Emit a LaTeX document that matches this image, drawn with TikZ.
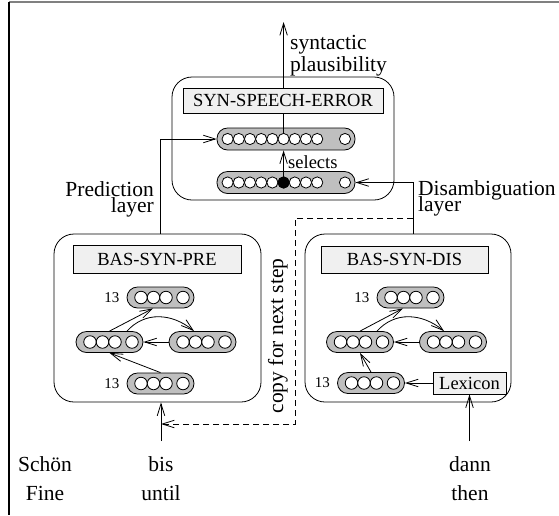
\documentclass[tikz,border=0pt]{standalone}
\usepackage{fontspec}
\setmainfont{Liberation Serif}
\usetikzlibrary{arrows.meta}
\begin{document}
\begin{tikzpicture}[x=1pt,y=-1pt,
  every node/.style={inner sep=0pt},
  lw/.style={line width=0.8pt},
  bigbox/.style={draw, line width=0.8pt, rounded corners=20pt},
  lbox/.style={draw, fill=gray!12, line width=0.8pt, font=\fontsize{18.5}{20}\selectfont},
  bbar/.style={draw, fill=gray!50, line width=0.8pt, rounded corners=10.5pt, minimum width=138pt, minimum height=22pt},
  sbar/.style={draw, fill=gray!50, line width=0.8pt, rounded corners=10.5pt, minimum width=67pt, minimum height=21pt},
  bdot/.style={circle, draw, fill=white, line width=0.8pt, minimum size=11.2pt},
  sdot/.style={circle, draw, fill=white, line width=0.8pt, minimum size=12.5pt},
  arr/.style={line width=0.8pt, -{Straight Barb[length=12pt,width=7.5pt]}},
  ann/.style={font=\fontsize{21.5}{24}\selectfont},
  num/.style={font=\fontsize{15}{16}\selectfont},
  sel/.style={font=\fontsize{18.5}{20}\selectfont},
]
\useasboundingbox (0,0) rectangle (559,515);
% frame
\draw[gray, line width=1.5pt] (9,2) -- (559,2);
\draw[line width=1.2pt] (9,2) -- (9,515);

% big boxes
\node[bigbox, minimum width=222pt, minimum height=123pt] (top) at (283,138.5) {};
\node[bigbox, minimum width=207pt, minimum height=168pt] (pre) at (157.5,318) {};
\node[bigbox, minimum width=206pt, minimum height=168pt] (dis) at (408,318) {};

% top bars
\node[bbar] (ub) at (286,139) {};
\node[bbar] (lb) at (286,182.5) {};
\foreach \d [count=\i] in {-58.4,-47.2,-36,-24.8,-13.6,-2.4,8.8,20,31.2,59} {
  \node[bdot] (u\i) at ([xshift=\d pt]ub.center) {};
  \node[bdot] (l\i) at ([xshift=\d pt]lb.center) {};
}
\node[bdot, fill=black] (sel) at (l6) {};

% output arrow
\coordinate (out) at (283.6,22);
\draw[arr] (u6.north) -- (out);
\node[lbox, minimum width=200pt, minimum height=25pt] (sse) at (283,100.5) {SYN-SPEECH-ERROR};
\draw[arr] (sel.north) -- (sel |- ub.south);

% lower boxes labels
\node[lbox, minimum width=168pt, minimum height=28pt] (bpre) at (157,259) {BAS-SYN-PRE};
\node[lbox, minimum width=167pt, minimum height=27pt] (bdis) at (404.5,259.5) {BAS-SYN-DIS};

% small bars PRE
\node[sbar] (pT) at (160.5,297.5) {};
\node[sbar] (pmL) at (109.5,342) {};
\node[sbar] (pmR) at (202.5,342) {};
\node[sbar] (pB) at (160.5,383.5) {};
% small bars DIS
\node[sbar] (dT) at (410.5,297.5) {};
\node[sbar] (dmL) at (360,342) {};
\node[sbar] (dmR) at (453,342) {};
\node[sbar] (dB) at (371,383) {};
\foreach \b in {pT,pmL,pmR,pB,dT,dmL,dmR,dB} {
  \foreach \d in {-19.5,-7,5.5,22.5} {
    \node[sdot] at ([xshift=\d pt]\b.center) {};
  }
}
\node[num, anchor=east] at ([xshift=-7pt]pT.west) {13};
\node[num, anchor=east] at ([xshift=-7pt]pB.west) {13};
\node[num, anchor=east] at ([xshift=-7pt]dT.west) {13};
\node[num, anchor=east] at ([xshift=-7pt]dB.west) {13};

\node[lbox, minimum width=73pt, minimum height=22pt] (lex) at (469.5,383) {Lexicon};

% inner arrows PRE
\draw[arr] (pmL.north) -- ([xshift=-7.5pt]pT.south);
\draw[arr] ([xshift=17.5pt]pmL.north) .. controls +(18,-20) and +(-22,-18) .. ([xshift=-8.5pt]pmR.north);
\draw[arr] (pmR.west) -- (pmL.east);
\draw[arr] (pB.north) -- (pmL.south);
% inner arrows DIS
\draw[arr] (dmL.north) -- ([xshift=-7.5pt]dT.south);
\draw[arr] ([xshift=17pt]dmL.north) .. controls +(18,-20) and +(-22,-18) .. ([xshift=-9pt]dmR.north);
\draw[arr] (dmR.west) -- (dmL.east);
\draw[arr] (dB.north) -- (dmL.south);
\draw[arr] (lex.west) -- (dB.east);

% layer connectors
\draw[arr] ([xshift=2.5pt]pre.north) |- (ub.west);
\draw[arr] ([xshift=5pt]dis.north) |- (lb.east);

% inputs
\coordinate (bisin) at (161,441);
\coordinate (dannin) at (469.5,441);
\draw[arr] (bisin) -- (bisin |- pre.south);
\draw[arr] (dannin) -- (lex.south);

% copy for next step
\coordinate (dj) at (413,218);
\coordinate (dc) at (295,218);
\coordinate (dd) at (295,424);
\coordinate (db) at (161,424);
\draw[arr, dash pattern=on 6pt off 4pt] (dj) -- (dc) -- (dd) -- (db);
\node[ann, rotate=90, anchor=base] (copy) at (283,336) {copy for next step};

% annotations
\node[ann, anchor=base west] (syn1) at (290,49) {syntactic};
\node[ann, anchor=base west] (syn2) at (290,71) {plausibility};
\node[ann, anchor=base east] (pl1) at (154,196) {Prediction};
\node[ann, anchor=base east] (pl2) at (154,212) {layer};
\node[ann, anchor=base west] (dl1) at (418,195) {Disambiguation};
\node[ann, anchor=base west] (dl2) at (418,211) {layer};
\node[sel, anchor=base west] (selt) at (288,168) {selects};

\node[ann, anchor=base] (w1) at (45,471) {Schön};
\node[ann, anchor=base] (g1) at (45,500) {Fine};
\node[ann, anchor=base] (w2) at (161,471) {bis};
\node[ann, anchor=base] (g2) at (161,500) {until};
\node[ann, anchor=base] (w3) at (470,471) {dann};
\node[ann, anchor=base] (g3) at (470,500) {then};
\end{tikzpicture}
\end{document}
